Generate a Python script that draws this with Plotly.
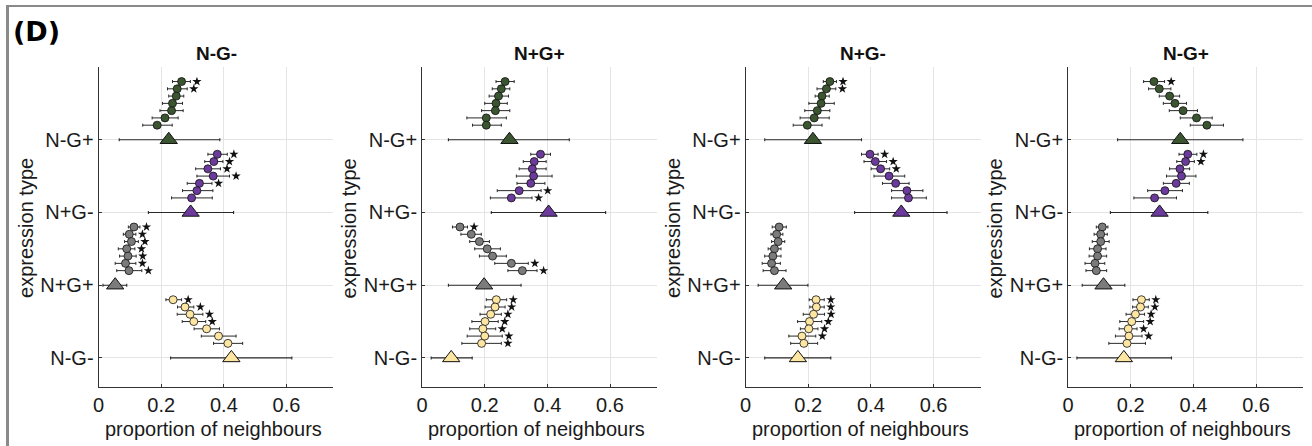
import plotly.graph_objects as go

# ---- figure layout constants (pixels) ----
W, H = 1312, 446

PANELS = ["N-G-", "N+G+", "N+G-", "N-G+"]
GROUPS = ["N-G+", "N+G-", "N+G+", "N-G-"]          # top to bottom
GROUP_Y = [4, 3, 2, 1]
DOT_OFFSETS = [0.8, 0.7, 0.6, 0.5, 0.4, 0.3, 0.2]
Y_TICKVALS = [1, 2, 3, 4]
Y_TICKTEXT = ["N-G-", "N+G+", "N+G-", "N-G+"]
X_TICKVALS = [0, 0.2, 0.4, 0.6]
X_TICKTEXT = ["0", "0.2", "0.4", "0.6"]

GROUP_FILL = ["#3b5530", "#6b3a9c", "#7b7b7b", "#fde5a2"]

# ---- panel 1: N-G- ----
p1_mean = [[0.265, 0.251, 0.248, 0.236, 0.233, 0.212, 0.187],
           [0.379, 0.368, 0.349, 0.366, 0.322, 0.314, 0.297],
           [0.113, 0.098, 0.105, 0.090, 0.094, 0.086, 0.097],
           [0.238, 0.276, 0.292, 0.304, 0.345, 0.383, 0.413]]
p1_lo = [[0.236, 0.220, 0.224, 0.204, 0.196, 0.171, 0.141],
         [0.349, 0.339, 0.310, 0.314, 0.283, 0.268, 0.233],
         [0.095, 0.079, 0.083, 0.063, 0.067, 0.053, 0.058],
         [0.215, 0.252, 0.251, 0.267, 0.305, 0.328, 0.367]]
p1_hi = [[0.293, 0.283, 0.272, 0.268, 0.270, 0.254, 0.235],
         [0.411, 0.397, 0.389, 0.418, 0.362, 0.365, 0.363],
         [0.132, 0.119, 0.127, 0.116, 0.120, 0.119, 0.138],
         [0.265, 0.304, 0.333, 0.342, 0.386, 0.439, 0.460]]
p1_sig = [[1, 1, 0, 0, 0, 0, 0],
          [1, 1, 1, 1, 1, 0, 0],
          [1, 1, 1, 1, 1, 1, 1],
          [1, 1, 1, 1, 0, 0, 0]]
p1_tri = [0.224, 0.294, 0.053, 0.424]
p1_tri_lo = [0.066, 0.159, 0.014, 0.230]
p1_tri_hi = [0.387, 0.431, 0.090, 0.617]

# ---- panel 2: N+G+ ----
p2_mean = [[0.265, 0.253, 0.244, 0.236, 0.234, 0.205, 0.205],
           [0.378, 0.358, 0.352, 0.356, 0.347, 0.310, 0.285],
           [0.121, 0.157, 0.183, 0.208, 0.225, 0.285, 0.320],
           [0.237, 0.233, 0.219, 0.201, 0.194, 0.200, 0.190]]
p2_lo = [[0.236, 0.224, 0.214, 0.200, 0.190, 0.143, 0.161],
         [0.347, 0.323, 0.310, 0.301, 0.303, 0.240, 0.218],
         [0.097, 0.124, 0.152, 0.168, 0.183, 0.232, 0.274],
         [0.205, 0.201, 0.185, 0.159, 0.152, 0.144, 0.127]]
p2_hi = [[0.294, 0.280, 0.276, 0.272, 0.280, 0.269, 0.253],
         [0.410, 0.396, 0.396, 0.415, 0.392, 0.380, 0.351],
         [0.145, 0.189, 0.215, 0.250, 0.269, 0.339, 0.367],
         [0.270, 0.265, 0.253, 0.243, 0.235, 0.256, 0.253]]
p2_sig = [[0, 0, 0, 0, 0, 0, 0],
          [0, 0, 0, 0, 0, 1, 1],
          [1, 0, 0, 0, 0, 1, 1],
          [1, 1, 1, 1, 1, 1, 1]]
p2_tri = [0.279, 0.404, 0.198, 0.093]
p2_tri_lo = [0.084, 0.221, 0.084, 0.029]
p2_tri_hi = [0.470, 0.586, 0.316, 0.160]

# ---- panel 3: N+G- ----
p3_mean = [[0.269, 0.258, 0.244, 0.241, 0.229, 0.219, 0.197],
           [0.397, 0.414, 0.431, 0.458, 0.479, 0.515, 0.520],
           [0.107, 0.099, 0.104, 0.092, 0.087, 0.083, 0.092],
           [0.225, 0.226, 0.217, 0.204, 0.202, 0.180, 0.186]]
p3_lo = [[0.248, 0.228, 0.222, 0.202, 0.189, 0.174, 0.152],
         [0.370, 0.378, 0.401, 0.410, 0.437, 0.466, 0.466],
         [0.085, 0.081, 0.083, 0.072, 0.061, 0.053, 0.056],
         [0.203, 0.205, 0.184, 0.166, 0.175, 0.138, 0.144]]
p3_hi = [[0.290, 0.288, 0.267, 0.283, 0.269, 0.267, 0.244],
         [0.423, 0.450, 0.460, 0.508, 0.522, 0.566, 0.577],
         [0.130, 0.119, 0.125, 0.113, 0.113, 0.111, 0.129],
         [0.251, 0.251, 0.252, 0.243, 0.231, 0.224, 0.230]]
p3_sig = [[1, 1, 0, 0, 0, 0, 0],
          [1, 1, 1, 0, 0, 0, 0],
          [0, 0, 0, 0, 0, 0, 0],
          [1, 1, 1, 1, 1, 1, 0]]
p3_tri = [0.215, 0.497, 0.120, 0.167]
p3_tri_lo = [0.061, 0.348, 0.040, 0.061]
p3_tri_hi = [0.370, 0.643, 0.199, 0.272]

# ---- panel 4: N-G+ ----
p4_mean = [[0.274, 0.291, 0.324, 0.341, 0.367, 0.410, 0.443],
           [0.382, 0.375, 0.357, 0.362, 0.345, 0.309, 0.276],
           [0.109, 0.104, 0.104, 0.094, 0.094, 0.086, 0.090],
           [0.234, 0.231, 0.215, 0.203, 0.192, 0.194, 0.188]]
p4_lo = [[0.241, 0.257, 0.291, 0.304, 0.323, 0.358, 0.390],
         [0.354, 0.347, 0.324, 0.314, 0.304, 0.254, 0.210],
         [0.090, 0.083, 0.077, 0.068, 0.067, 0.054, 0.057],
         [0.207, 0.206, 0.185, 0.165, 0.163, 0.151, 0.130]]
p4_hi = [[0.308, 0.328, 0.356, 0.378, 0.413, 0.460, 0.496],
         [0.411, 0.403, 0.388, 0.408, 0.387, 0.365, 0.346],
         [0.127, 0.125, 0.131, 0.121, 0.123, 0.117, 0.123],
         [0.259, 0.256, 0.244, 0.241, 0.220, 0.236, 0.247]]
p4_sig = [[1, 0, 0, 0, 0, 0, 0],
          [1, 1, 0, 0, 0, 0, 0],
          [0, 0, 0, 0, 0, 0, 0],
          [1, 1, 1, 1, 1, 1, 0]]
p4_tri = [0.358, 0.292, 0.113, 0.178]
p4_tri_lo = [0.158, 0.135, 0.045, 0.028]
p4_tri_hi = [0.558, 0.446, 0.181, 0.330]

panel_data = [
    (p1_mean, p1_lo, p1_hi, p1_sig, p1_tri, p1_tri_lo, p1_tri_hi),
    (p2_mean, p2_lo, p2_hi, p2_sig, p2_tri, p2_tri_lo, p2_tri_hi),
    (p3_mean, p3_lo, p3_hi, p3_sig, p3_tri, p3_tri_lo, p3_tri_hi),
    (p4_mean, p4_lo, p4_hi, p4_sig, p4_tri, p4_tri_lo, p4_tri_hi),
]

# axes placement (pixels)
AX_LEFT = [93, 418, 743, 1067]
AX_W = 236
AX_TOP, AX_BOT = 67, 387
X_RANGE = [0, 0.75]
Y_RANGE = [0.6, 5.0]
STAR_GAP = 0.021

FONT = "Liberation Sans, Arial, sans-serif"
ERR_COLOR = "#2a2a2a"


def px_x(x):
    return x / W


def px_y(y):
    return 1 - y / H


fig = go.Figure()

for i, (mean, lo, hi, sig, tri, tri_lo, tri_hi) in enumerate(panel_data):
    xa = "x" if i == 0 else f"x{i + 1}"
    ya = "y" if i == 0 else f"y{i + 1}"
    for g in range(4):
        base = GROUP_Y[g]
        ys = [base + o for o in DOT_OFFSETS]
        # summary triangle with its range
        fig.add_trace(go.Scatter(
            x=[tri[g]], y=[base], xaxis=xa, yaxis=ya, mode="markers",
            marker=dict(symbol="triangle-up", size=15, color=GROUP_FILL[g],
                        line=dict(color="#111111", width=1)),
            error_x=dict(type="data", symmetric=False,
                         array=[tri_hi[g] - tri[g]],
                         arrayminus=[tri[g] - tri_lo[g]],
                         color=ERR_COLOR, thickness=1.1, width=1.5),
            showlegend=False, hoverinfo="skip"))
        # per-sample points with intervals
        fig.add_trace(go.Scatter(
            x=mean[g], y=ys, xaxis=xa, yaxis=ya, mode="markers",
            marker=dict(symbol="circle", size=8, color=GROUP_FILL[g],
                        line=dict(color="#111111", width=0.8)),
            error_x=dict(type="data", symmetric=False,
                         array=[h - m for h, m in zip(hi[g], mean[g])],
                         arrayminus=[m - l for m, l in zip(mean[g], lo[g])],
                         color=ERR_COLOR, thickness=1.0, width=1.5),
            showlegend=False, hoverinfo="skip"))
        # significance stars
        sx = [h + STAR_GAP for h, s in zip(hi[g], sig[g]) if s]
        sy = [y for y, s in zip(ys, sig[g]) if s]
        if sx:
            fig.add_trace(go.Scatter(
                x=sx, y=sy, xaxis=xa, yaxis=ya, mode="markers",
                marker=dict(symbol="star", size=7, color="#111111",
                            line=dict(width=0)),
                showlegend=False, hoverinfo="skip"))

axis_common = dict(showgrid=True, gridcolor="#e4e4e4", gridwidth=1,
                   zeroline=False, showline=True, linecolor="#333333",
                   linewidth=1, ticks="inside", ticklen=3, tickcolor="#333333",
                   tickfont=dict(family=FONT, size=20, color="#1a1a1a"))

layout = dict(width=W, height=H, margin=dict(l=0, r=0, t=0, b=0),
              paper_bgcolor="white", plot_bgcolor="white", showlegend=False)

annotations = []
for i in range(4):
    suffix = "" if i == 0 else str(i + 1)
    x0 = AX_LEFT[i]
    layout["xaxis" + suffix] = dict(
        axis_common, domain=[px_x(x0), px_x(x0 + AX_W)], range=X_RANGE,
        tickvals=X_TICKVALS, ticktext=X_TICKTEXT,
        anchor="y" + suffix)
    layout["yaxis" + suffix] = dict(
        axis_common, domain=[px_y(AX_BOT), px_y(AX_TOP)], range=Y_RANGE,
        tickvals=Y_TICKVALS, ticktext=Y_TICKTEXT,
        anchor="x" + suffix)
    cx = x0 + AX_W / 2
    annotations.append(dict(text="<b>" + PANELS[i] + "</b>", x=px_x(cx), y=px_y(53),
                            xref="paper", yref="paper", showarrow=False,
                            xanchor="center", yanchor="middle",
                            font=dict(family=FONT, size=19, color="#111111")))
    annotations.append(dict(text="proportion of neighbours", x=px_x(cx - 3), y=px_y(429),
                            xref="paper", yref="paper", showarrow=False,
                            xanchor="center", yanchor="middle",
                            font=dict(family=FONT, size=20, color="#1a1a1a")))
    annotations.append(dict(text="expression type", x=px_x(x0 - 73), y=px_y(228),
                            xref="paper", yref="paper", showarrow=False,
                            textangle=-90, xanchor="center", yanchor="middle",
                            font=dict(family=FONT, size=20, color="#1a1a1a")))

annotations.append(dict(text="<b>(D)</b>", x=px_x(5), y=px_y(32),
                        xref="paper", yref="paper", showarrow=False,
                        xanchor="left", yanchor="middle",
                        font=dict(family="DejaVu Sans, Verdana, sans-serif",
                                  size=27, color="#000000")))
layout["annotations"] = annotations

# panel frame: top and left border lines
layout["shapes"] = [
    dict(type="line", xref="paper", yref="paper", x0=0, x1=1,
         y0=px_y(6), y1=px_y(6), line=dict(color="#8a8a8a", width=2)),
    dict(type="line", xref="paper", yref="paper", x0=px_x(1.5), x1=px_x(1.5),
         y0=0, y1=px_y(6), line=dict(color="#8a8a8a", width=3)),
]

fig.update_layout(**layout)
fig.write_html("out.html")
